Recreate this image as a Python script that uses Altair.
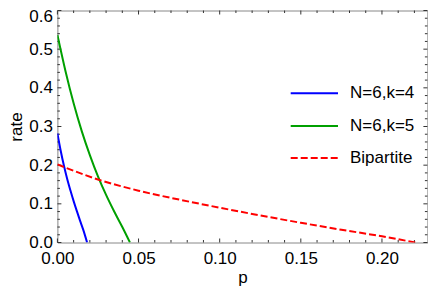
import altair as alt
import pandas as pd

# ---- data ----
p_k4 = [0.0, 0.002, 0.004, 0.006, 0.008, 0.010, 0.012, 0.014, 0.016, 0.0183]
rate_k4 = [0.282, 0.238, 0.199, 0.165, 0.135, 0.107, 0.081, 0.056, 0.032, 0.0]

p_k5 = [0.0, 0.005, 0.010, 0.015, 0.020, 0.025, 0.030, 0.035, 0.040, 0.0447]
rate_k5 = [0.537, 0.443, 0.360, 0.288, 0.226, 0.171, 0.123, 0.080, 0.040, 0.0]

p_bip = [0.0, 0.025, 0.05, 0.075, 0.10, 0.125, 0.15, 0.175, 0.20, 0.2205]
rate_bip = [0.202, 0.163, 0.134, 0.111, 0.090, 0.070, 0.051, 0.033, 0.016, 0.0]

labels = ["N=6,k=4", "N=6,k=5", "Bipartite"]
colors = ["#0000ff", "#00a000", "#ff0000"]

x_major = [0.0, 0.05, 0.10, 0.15, 0.20]
x_minor = [0.01, 0.02, 0.03, 0.04, 0.06, 0.07, 0.08, 0.09, 0.11, 0.12, 0.13,
           0.14, 0.16, 0.17, 0.18, 0.19, 0.21, 0.22]
y_major = [0.0, 0.1, 0.2, 0.3, 0.4, 0.5, 0.6]
y_minor = [0.02, 0.04, 0.06, 0.08, 0.12, 0.14, 0.16, 0.18, 0.22, 0.24, 0.26,
           0.28, 0.32, 0.34, 0.36, 0.38, 0.42, 0.44, 0.46, 0.48, 0.52, 0.54,
           0.56, 0.58]

W, H = 370, 232
FONT = "Liberation Sans"
FS = 17

xs = alt.Scale(domain=[0, 0.228], nice=False, zero=False)
ys = alt.Scale(domain=[0, 0.6], nice=False)
xaxis = alt.Axis(title="p", values=x_major, format=".2f", labelPadding=8,
                 labelFlush=False, titleBaseline="alphabetic", titleY=39.5,
                 titleX=W / 2)
yaxis = alt.Axis(title="rate", values=y_major, format=".1f", labelPadding=5,
                 labelFlush=False, titleBaseline="alphabetic", titleX=-36,
                 titleY=H / 2,
                 labelOffset={"condition": {"test": "datum.value > 0.59", "value": 6},
                              "value": 0})


def series(p, r, color, dash=None):
    df = pd.DataFrame({"p": p, "rate": r})
    kw = dict(color=color, strokeWidth=2, interpolate="monotone", clip=True)
    if dash:
        kw["strokeDash"] = dash
    return alt.Chart(df).mark_line(**kw).encode(
        x=alt.X("p:Q", scale=xs, axis=xaxis),
        y=alt.Y("rate:Q", scale=ys, axis=yaxis),
    )


def xticks(vals, length):
    df = pd.DataFrame({"v": vals})
    base = alt.Chart(df)
    bottom = base.mark_rule(color="#333333", strokeWidth=1).encode(
        x=alt.X("v:Q", scale=xs, axis=xaxis), y=alt.value(H), y2=alt.value(H - length))
    top = base.mark_rule(color="#333333", strokeWidth=1).encode(
        x=alt.X("v:Q", scale=xs, axis=xaxis), y=alt.value(0), y2=alt.value(length))
    return [bottom, top]


def yticks(vals, length):
    df = pd.DataFrame({"v": vals})
    base = alt.Chart(df)
    left = base.mark_rule(color="#333333", strokeWidth=1).encode(
        y=alt.Y("v:Q", scale=ys, axis=yaxis), x=alt.value(0), x2=alt.value(length))
    right = base.mark_rule(color="#333333", strokeWidth=1).encode(
        y=alt.Y("v:Q", scale=ys, axis=yaxis), x=alt.value(W), x2=alt.value(W - length))
    return [left, right]


layers = []
layers += xticks(x_major, 4) + xticks(x_minor, 2.5)
layers += yticks(y_major, 4) + yticks(y_minor, 2.5)
layers.append(series(p_k4, rate_k4, colors[0]))
layers.append(series(p_k5, rate_k5, colors[1]))
layers.append(series(p_bip, rate_bip, colors[2], dash=[7, 3]))

# manual legend
leg_y = [82.8, 115.5, 147.5]
dashes = [None, None, [7, 3]]
for lab, col, yy, d in zip(labels, colors, leg_y, dashes):
    ldf = pd.DataFrame({"label": [lab]})
    kw = dict(color=col, strokeWidth=2)
    if d:
        kw["strokeDash"] = d
    layers.append(alt.Chart(ldf).mark_rule(**kw).encode(
        x=alt.value(233.3), x2=alt.value(280.6), y=alt.value(yy)))
    layers.append(alt.Chart(ldf).mark_text(
        align="left", baseline="middle", font=FONT, fontSize=FS, color="black").encode(
        text="label:N", x=alt.value(292.6), y=alt.value(yy)))

chart = alt.layer(*layers).properties(
    width=W, height=H,
    background="white",
    autosize=alt.AutoSizeParams(type="none"),
    padding={"left": 49.4, "top": 2.5, "right": 0.6, "bottom": 43.5},
).configure_view(
    stroke="#888888", strokeWidth=1
).configure_axis(
    domain=False, ticks=False, tickSize=0, grid=False,
    labelFont=FONT, labelFontSize=FS, labelColor="black",
    titleFont=FONT, titleFontSize=FS, titleFontWeight="normal", titleColor="black",
)

chart.save("out.html", embed_options={"renderer": "svg", "actions": False})
